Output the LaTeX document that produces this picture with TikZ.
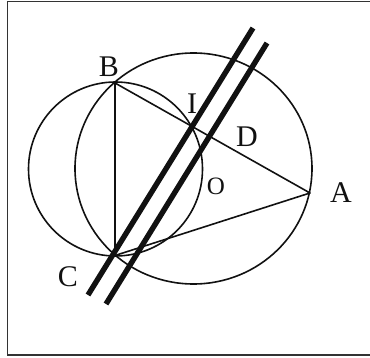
\documentclass[tikz,border=0pt]{standalone}
\usepackage{fontspec}
\setmainfont{Liberation Serif}
\usetikzlibrary{calc}
\definecolor{ink}{HTML}{111111}
\definecolor{rim}{HTML}{333333}

\begin{document}
\begin{tikzpicture}[x=1pt,y=-1pt,
  edge/.style={draw=ink,line width=1.6pt,line join=round},
  wall/.style={draw=ink,line width=5.4pt},
  lbl/.style={font=\fontsize{30}{32}\selectfont,text=ink,inner sep=0pt}]
  \useasboundingbox (0,0) rectangle (370,358);
  \draw[rim,line width=1.2pt] (371,1.8) -- (7.4,1.8) -- (7.4,355) -- (371,355);

  \coordinate (B) at (115,83);
  \coordinate (C) at (115,255.5);
  \coordinate (A) at (310,193);
  \coordinate (O) at (193.5,168.5);
  \coordinate (M) at (115.5,169); % centre of the circle on BC
  \coordinate (P1) at (88,295);  \coordinate (Q1) at (253,28);
  \coordinate (P2) at (106,304); \coordinate (Q2) at (267,43);
  \coordinate (I) at (intersection of P1--Q1 and B--A);
  \coordinate (D) at (intersection of P2--Q2 and B--A);

  \draw[edge] (M) circle[radius=87];
  \draw[edge] (O) ellipse[x radius=118.5,y radius=115.5];
  \draw[edge] (B) -- (C) -- (A) -- cycle;
  \draw[wall] (P1) -- (Q1);
  \draw[wall] (P2) -- (Q2);

  \node[lbl] (lB) at (109,67) {B};
  \node[lbl] (lI) at (192,104) {I};
  \node[lbl] (lD) at (247,137) {D};
  \node[lbl,font=\fontsize{25}{27}\selectfont] (lO) at (216,186) {O};
  \node[lbl] (lA) at (341,193) {A};
  \node[lbl] (lC) at (68,277) {C};
\end{tikzpicture}
\end{document}
